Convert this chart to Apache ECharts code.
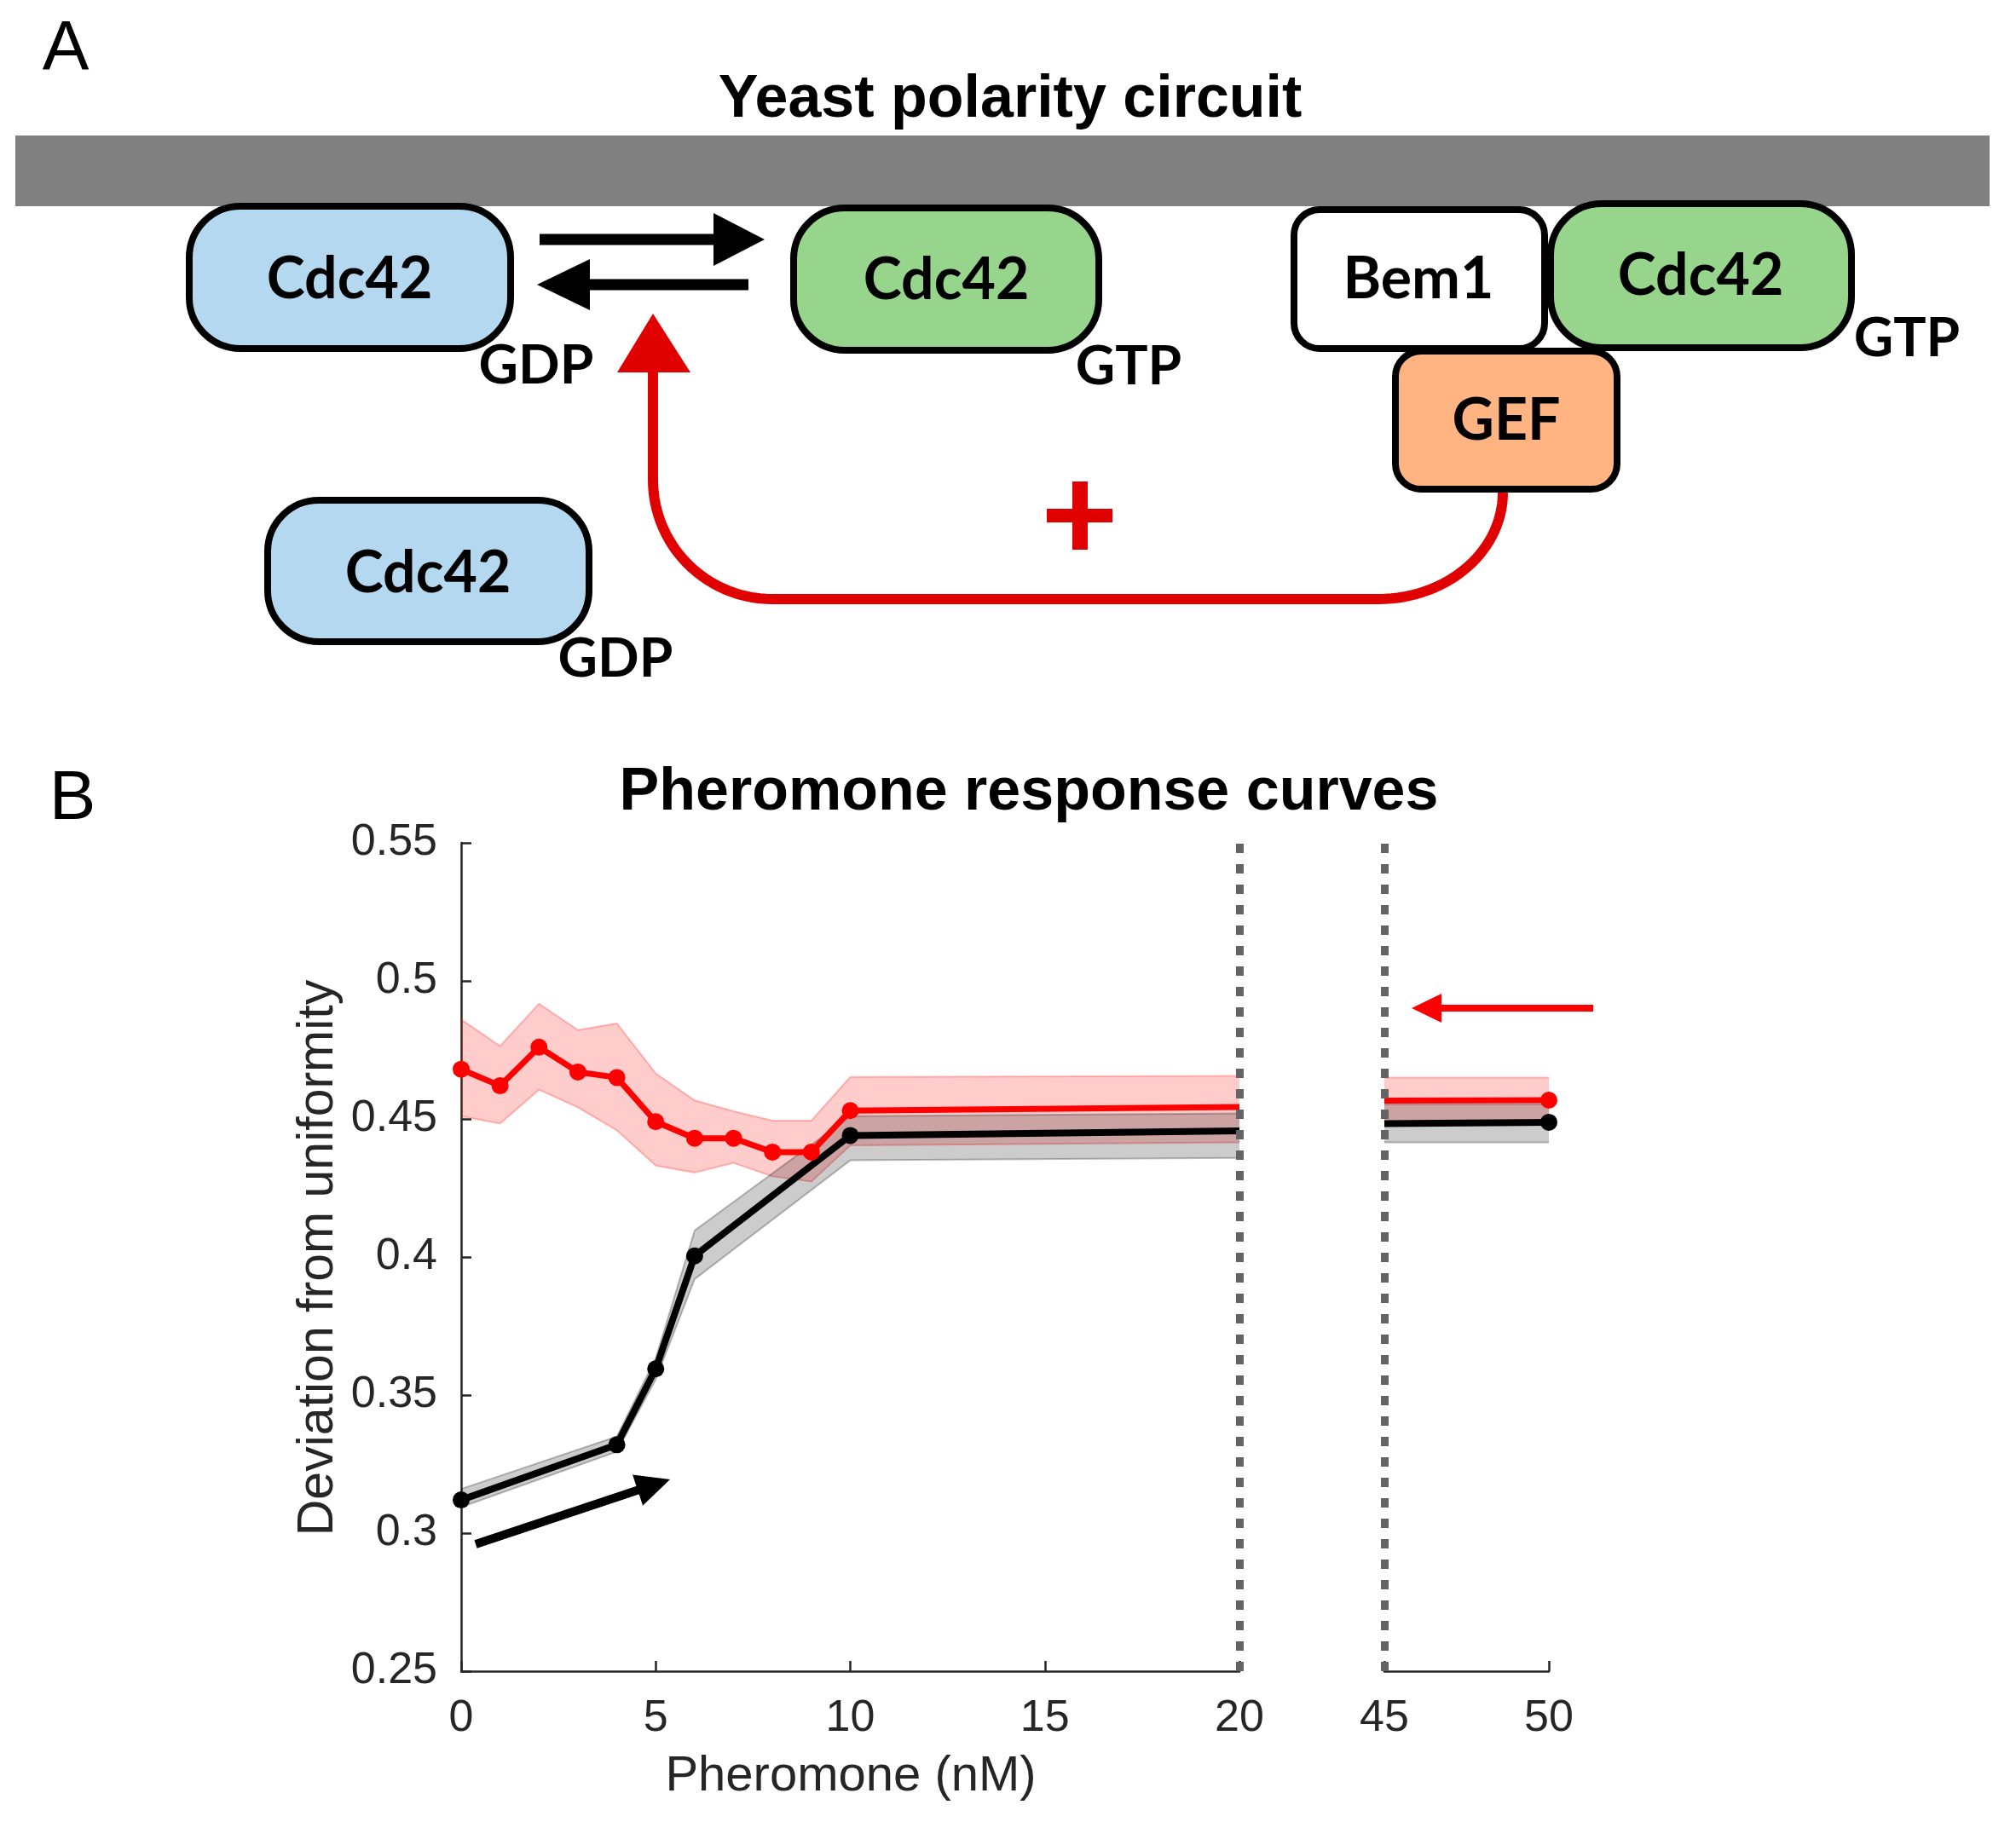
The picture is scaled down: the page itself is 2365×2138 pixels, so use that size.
<!DOCTYPE html>
<html><head><meta charset="utf-8">
<script src="https://cdn.jsdelivr.net/npm/echarts@6/dist/echarts.min.js"></script>
<style>html,body{margin:0;padding:0;background:#fff}#c{width:2365px;height:2138px}</style>
</head><body><div id="c"></div>
<script>
// ---------- data (panel B) ----------
const redX      = [0, 1, 2, 3, 4, 5, 6, 7, 8, 9, 10, 20];
const redY      = [0.468, 0.462, 0.476, 0.467, 0.465, 0.449, 0.443, 0.443, 0.438, 0.438, 0.453, 0.4543];
const redUpper  = [0.486, 0.4764, 0.4917, 0.4822, 0.4846, 0.4665, 0.4567, 0.4528, 0.4494, 0.4494, 0.4652, 0.4656];
const redLower  = [0.451, 0.4483, 0.4606, 0.4542, 0.4459, 0.4331, 0.4306, 0.4341, 0.4292, 0.4273, 0.4404, 0.4415];

const blackX     = [0, 4, 5, 6, 10, 20];
const blackY     = [0.312, 0.332, 0.3595, 0.4004, 0.444, 0.4457];
const blackUpper = [0.316, 0.335, 0.3634, 0.4096, 0.451, 0.452];
const blackLower = [0.3094, 0.3295, 0.3556, 0.392, 0.435, 0.4359];

const highX          = [45, 50];
const redHighY       = [0.4566, 0.4568];
const redHighUpper   = [0.465, 0.465];
const redHighLower   = [0.448, 0.448];
const blackHighY     = [0.4483, 0.4488];
const blackHighUpper = [0.4553, 0.4553];
const blackHighLower = [0.4415, 0.4415];

const lowRange  = [0, 20];   // left x segment
const highRange = [45, 50];  // right x segment
const yRange    = [0.25, 0.55];

// ---------- helpers ----------
const AX = '#262626';
const FONT = "'Liberation Sans', Arial, sans-serif";

function bandSeries(xs, lo, hi, gi, fill, edge) {
  return {
    type: 'custom', xAxisIndex: gi, yAxisIndex: gi, silent: true,
    data: xs.map((x, i) => [x, lo[i], hi[i]]),
    encode: { x: 0, y: [1, 2] },
    renderItem: (params, api) => {
      if (params.dataIndex !== 0) return null;
      const up = xs.map((x, i) => api.coord([x, hi[i]]));
      const dn = xs.map((x, i) => api.coord([x, lo[i]]));
      return {
        type: 'group', children: [
          { type: 'polygon', shape: { points: up.concat(dn.slice().reverse()) }, style: { fill } },
          { type: 'polyline', shape: { points: up }, style: { stroke: edge, lineWidth: 2, fill: null } },
          { type: 'polyline', shape: { points: dn }, style: { stroke: edge, lineWidth: 2, fill: null } }
        ]
      };
    }
  };
}
function meanSeries(name, xs, ys, gi, color, width, markerAt, extra) {
  return Object.assign({
    type: 'line', name, xAxisIndex: gi, yAxisIndex: gi, silent: true,
    lineStyle: { color, width }, itemStyle: { color },
    symbol: 'circle', symbolSize: 20, showAllSymbol: true,
    data: xs.map((x, i) => ({ value: [x, ys[i]], symbol: markerAt(x) ? 'circle' : 'none' }))
  }, extra || {});
}
const breakLine = (x) => ({
  markLine: {
    symbol: 'none', silent: true, label: { show: false }, animation: false,
    lineStyle: { type: [11, 13], color: '#646464', width: 9, cap: 'butt' },
    data: [{ xAxis: x }]
  }
});

function axisCommon(extra) {
  return Object.assign({
    type: 'value',
    axisLine: { show: true, onZero: false, lineStyle: { color: AX, width: 2.5 } },
    axisTick: { show: true, inside: true, length: 12, lineStyle: { color: AX, width: 2.5 } },
    axisLabel: { color: AX, fontSize: 52, fontFamily: FONT },
    splitLine: { show: false }
  }, extra);
}

// ---------- graphic helpers (panel A + annotations) ----------
function rrect(x, y, w, h, r, fill) {
  return { type: 'rect', shape: { x, y, width: w, height: h, r }, style: { fill, stroke: '#000', lineWidth: 8 } };
}
function txt(text, x, y, size, weight, color, family, rot) {
  return {
    type: 'text', x, y, rotation: rot || 0,
    style: { text, font: `${weight} ${size}px ${family}`, fill: color,
             align: 'center', verticalAlign: 'middle', textAlign: 'center', textVerticalAlign: 'middle' }
  };
}
function arrow(x1, y1, x2, y2, w, hl, hw, color) {
  const L = Math.hypot(x2 - x1, y2 - y1), ux = (x2 - x1) / L, uy = (y2 - y1) / L;
  const bx = x2 - ux * hl, by = y2 - uy * hl, px = -uy, py = ux;
  return [
    { type: 'line', shape: { x1, y1, x2: bx + ux * 2, y2: by + uy * 2 }, style: { stroke: color, lineWidth: w } },
    { type: 'polygon', shape: { points: [[x2, y2], [bx + px * hw, by + py * hw], [bx - px * hw, by - py * hw]] }, style: { fill: color } }
  ];
}
function feedbackPath() {
  const pts = [[766, 433], [766, 563]];
  for (let k = 1; k <= 30; k++) { const t = Math.PI - k / 30 * Math.PI / 2; pts.push([906 + 140 * Math.cos(t), 563 + 140 * Math.sin(t)]); }
  pts.push([1617, 703]);
  for (let k = 1; k <= 30; k++) { const t = Math.PI / 2 - k / 30 * Math.PI / 2; pts.push([1617 + 146 * Math.cos(t), 578 + 125 * Math.sin(t)]); }
  return { type: 'polyline', shape: { points: pts }, style: { stroke: '#e00000', lineWidth: 12, fill: null, lineJoin: 'round' } };
}

const BOXF = "Lato, 'Noto Sans', sans-serif";
const RED = '#e00000';
const graphics = [
  txt('A', 77, 58, 82, 'normal', '#000', FONT),
  txt('Yeast polarity circuit', 1185, 118, 70, 'bold', '#000', FONT),
  { type: 'rect', shape: { x: 18, y: 159, width: 2316, height: 83 }, style: { fill: '#808080' } },
  rrect(222, 242, 377, 167, 60, '#b4d8ef'),
  txt('Cdc42', 410, 328, 68, 'bold', '#000', BOXF),
  txt('GDP', 629, 429, 64, 'bold', '#000', BOXF),
  rrect(931, 244, 358, 167, 60, '#97d58c'),
  txt('Cdc42', 1110, 329, 68, 'bold', '#000', BOXF),
  txt('GTP', 1324, 430, 64, 'bold', '#000', BOXF),
  rrect(1518, 246, 294, 163, 30, '#ffffff'),
  txt('Bem1', 1664, 328, 68, 'bold', '#000', BOXF),
  rrect(1819, 239, 353, 169, 60, '#97d58c'),
  txt('Cdc42', 1995, 324, 68, 'bold', '#000', BOXF),
  txt('GTP', 2237, 397, 64, 'bold', '#000', BOXF),
  rrect(1637, 412, 260, 162, 30, '#ffb482'),
  txt('GEF', 1767, 494, 68, 'bold', '#000', BOXF),
  rrect(314, 587, 377, 166, 60, '#b4d8ef'),
  txt('Cdc42', 502, 673, 68, 'bold', '#000', BOXF),
  txt('GDP', 722, 773, 64, 'bold', '#000', BOXF),
  ...arrow(633, 281, 897, 281, 13, 60, 31, '#000'),
  ...arrow(878, 334, 630, 334, 13, 62, 30, '#000'),
  feedbackPath(),
  { type: 'polygon', shape: { points: [[766, 368], [724, 437], [810, 437]] }, style: { fill: RED } },
  { type: 'line', shape: { x1: 1228, y1: 605, x2: 1305, y2: 605 }, style: { stroke: RED, lineWidth: 16 } },
  { type: 'line', shape: { x1: 1267, y1: 565, x2: 1267, y2: 645 }, style: { stroke: RED, lineWidth: 18 } },
  // panel B texts
  txt('B', 85, 938, 82, 'normal', '#000', FONT),
  txt('Pheromone response curves', 1207, 931, 70, 'bold', '#000', FONT),
  txt('Deviation from uniformity', 374, 1476, 59, 'normal', AX, FONT, Math.PI / 2),
  txt('Pheromone (nM)', 998, 2085, 58, 'normal', AX, FONT),
  // annotation arrows
  ...arrow(558, 1812, 786, 1736, 10, 40, 19, '#000'),
  ...arrow(1869, 1183, 1656, 1183, 8, 35, 17, '#ff0000')
];

const chart = echarts.init(document.getElementById('c'), null, { renderer: 'canvas', width: 2365, height: 2138 });
chart.setOption({
  backgroundColor: '#ffffff',
  animation: false,
  grid: [
    { left: 541, top: 989, width: 913, height: 972 },
    { left: 1624, top: 989, width: 193, height: 972 }
  ],
  xAxis: [
    axisCommon({ gridIndex: 0, min: lowRange[0], max: lowRange[1], interval: 5, axisLabel: { color: AX, fontSize: 52, fontFamily: FONT, margin: 30 } }),
    axisCommon({ gridIndex: 1, min: highRange[0], max: highRange[1], interval: 5, axisLabel: { color: AX, fontSize: 52, fontFamily: FONT, margin: 30 } })
  ],
  yAxis: [
    axisCommon({ gridIndex: 0, min: yRange[0], max: yRange[1], interval: 0.05,
      axisLabel: { color: AX, fontSize: 52, fontFamily: FONT, margin: 28, formatter: v => String(Math.round(v * 100) / 100) } }),
    axisCommon({ gridIndex: 1, min: yRange[0], max: yRange[1], interval: 0.05, show: false })
  ],
  series: [
    bandSeries(redX, redLower, redUpper, 0, 'rgba(255,0,0,0.2)', 'rgba(255,0,0,0.25)'),
    bandSeries(blackX, blackLower, blackUpper, 0, 'rgba(0,0,0,0.2)', 'rgba(0,0,0,0.25)'),
    meanSeries('red mean', redX, redY, 0, '#ff0000', 7, x => x !== lowRange[1], breakLine(lowRange[1])),
    meanSeries('black mean', blackX, blackY, 0, '#000000', 8, x => x !== lowRange[1]),
    bandSeries(highX, redHighLower, redHighUpper, 1, 'rgba(255,0,0,0.2)', 'rgba(255,0,0,0.25)'),
    bandSeries(highX, blackHighLower, blackHighUpper, 1, 'rgba(0,0,0,0.2)', 'rgba(0,0,0,0.25)'),
    meanSeries('red mean high', highX, redHighY, 1, '#ff0000', 7, x => x === highRange[1], breakLine(highRange[0])),
    meanSeries('black mean high', highX, blackHighY, 1, '#000000', 8, x => x === highRange[1])
  ],
  graphic: { elements: graphics }
});
</script></body></html>
